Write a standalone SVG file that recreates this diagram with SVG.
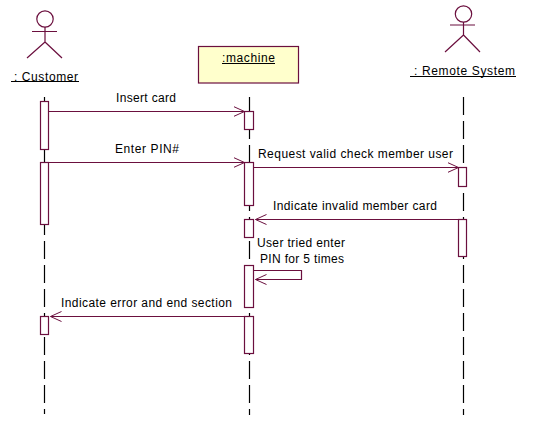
<svg xmlns="http://www.w3.org/2000/svg" width="552" height="437" viewBox="0 0 552 437">
<style>
text{font-family:"Liberation Sans",Arial,sans-serif;font-size:12px;fill:#000}
.s{fill:none;stroke:#6b0f3e;stroke-width:1.2}
.a{fill:#fff;stroke:#6b0f3e;stroke-width:1.2}
.m{fill:none;stroke:#6b0f3e;stroke-width:1.2}
.l{stroke:#000;stroke-width:1.2;stroke-dasharray:18 6;fill:none}
.u{stroke:#000;stroke-width:1}
</style>
<defs><marker id="arr" markerUnits="userSpaceOnUse" markerWidth="12" markerHeight="14" refX="11" refY="7" orient="auto-start-reverse"><path d="M0 2L11 7L0 12" fill="none" stroke="#6b0f3e" stroke-width="1"/></marker></defs>
<rect width="552" height="437" fill="#fff"/>
<g id="lifelines"><path class="l" d="M44.500 97V414"/><path class="l" d="M249.500 97V415"/><path class="l" d="M463.500 97V415"/></g>
<g id="customer"><circle class="s" cx="45" cy="19" r="8.200"/><path class="s" d="M45 27V42M32 31.500H57M45 42L27 58M45 42L62 58"/><text x="14" y="81" textLength="64" lengthAdjust="spacing">: Customer</text><path class="u" d="M11 81.500H79"/></g>
<g id="machine"><rect x="198.500" y="46.500" width="100" height="36.500" fill="#ffffcc" stroke="#6b0f3e" stroke-width="1.200"/><text x="222" y="62" textLength="53">:machine</text><path class="u" d="M222 63.500H275"/></g>
<g id="remote"><circle class="s" cx="463.500" cy="14" r="8.200"/><path class="s" d="M463.500 22V35M450 25H475M463.500 35L445 52M463.500 35L480 52"/><text x="414" y="75" textLength="101">: Remote System</text><path class="u" d="M410 76.500H516"/></g>
<g id="activations">
<rect class="a" x="40.500" y="101.500" width="8" height="48"/><rect class="a" x="40.500" y="162.500" width="8" height="62"/><rect class="a" x="40.500" y="316.500" width="8" height="18"/>
<rect class="a" x="244.500" y="111.500" width="9" height="18"/><rect class="a" x="244.500" y="162.500" width="9" height="43"/><rect class="a" x="244.500" y="219.500" width="9" height="18"/><rect class="a" x="244.500" y="265.500" width="9" height="42"/><rect class="a" x="244.500" y="316.500" width="9" height="37"/>
<rect class="a" x="458.500" y="167.500" width="8" height="19"/><rect class="a" x="458.500" y="219.500" width="8" height="37"/>
</g>
<g id="connectors">
<path class="m" marker-end="url(#arr)" d="M48.500 111.500H244.500"/>
<path class="m" marker-end="url(#arr)" d="M48.500 162.500H244.500"/>
<path class="m" marker-end="url(#arr)" d="M253.500 167.500H458.500"/>
<path class="m" marker-end="url(#arr)" d="M458.500 219.500H255.500"/>
<path class="m" marker-end="url(#arr)" d="M253.500 270.500H301.500V279.500H255.500"/>
<path class="m" marker-end="url(#arr)" d="M244.500 316.500H50.500"/>
</g>
<g id="labels">
<text x="116" y="102" textLength="60">Insert card</text>
<text x="115" y="153" textLength="64">Enter PIN#</text>
<text x="258" y="158" textLength="195">Request valid check member user</text>
<text x="273" y="210" textLength="164">Indicate invalid member card</text>
<text x="257" y="247" textLength="88">User tried enter</text>
<text x="260" y="263" textLength="84">PIN for 5 times</text>
<text x="61" y="307" textLength="171">Indicate error and end section</text>
</g>
</svg>
